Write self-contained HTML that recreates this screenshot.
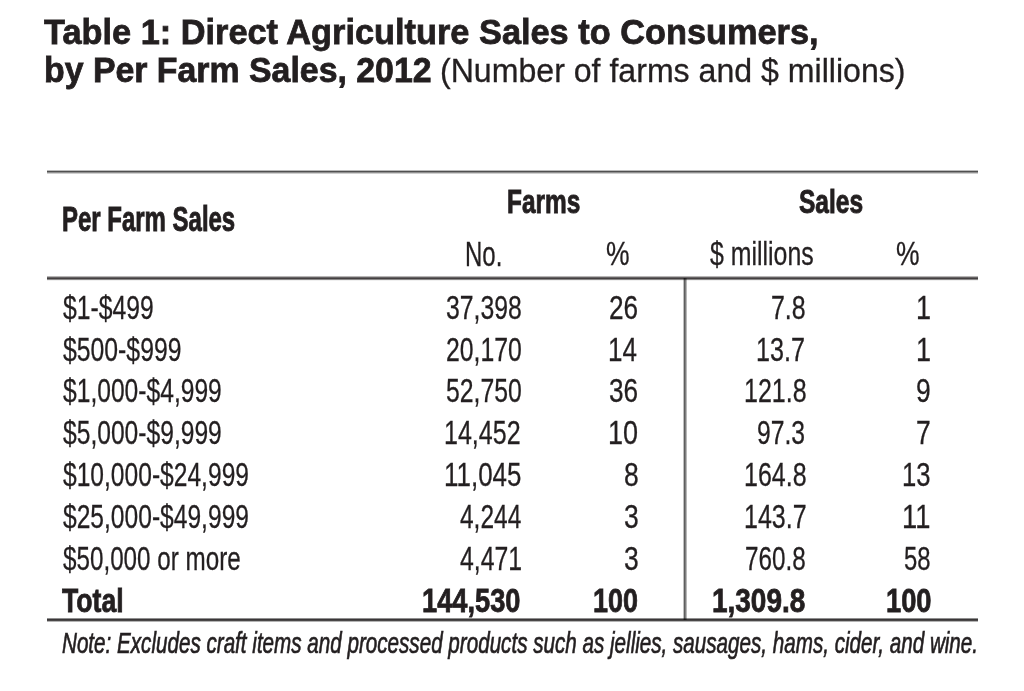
<!DOCTYPE html>
<html lang="en">
<head>
<meta charset="utf-8">
<title>Table 1: Direct Agriculture Sales to Consumers, by Per Farm Sales, 2012</title>
<style>
html,body{margin:0;padding:0;background:#fff;}
body{width:1024px;height:691px;position:relative;overflow:hidden;font-family:"Liberation Sans",sans-serif;color:#231f20;}
h1,p,section,header,div{margin:0;padding:0;font-size:inherit;font-weight:inherit;}
.t{position:absolute;display:block;white-space:pre;line-height:1;font-weight:400;font-style:normal;transform-origin:0 0;filter:blur(0.4px);}
.b{font-weight:700;}
.i{font-style:italic;}
.rule{position:absolute;}
.v{mix-blend-mode:multiply;}
</style>
</head>
<body>
<h1>
<span class="t b" style="left:43.8px;top:15.0px;font-size:35.8px;transform:scaleX(0.9591);-webkit-text-stroke:0.8px #231f20;">Table 1: Direct Agriculture Sales to Consumers,</span>
<span class="t b" style="left:43.71px;top:53.0px;font-size:35.8px;transform:scaleX(0.9455);-webkit-text-stroke:0.8px #231f20;">by Per Farm Sales, 2012</span>
<span class="t" style="left:440.03px;top:55.0px;font-size:32.6px;transform:scaleX(0.9851);-webkit-text-stroke:0.3px #231f20;">(Number of farms and $ millions)</span>
</h1>
<section>
<div class="rule" style="left:46.6px;top:170px;width:931.6px;height:4px;background:linear-gradient(to bottom,#bcbcbc 0px 1px,#505050 1px 2px,#909090 2px 3px,#d0d0d0 3px 4px)"></div>
<header>
<span class="t b" style="left:61.81px;top:202.0px;font-size:34.6px;transform:scaleX(0.6931);-webkit-text-stroke:0.9px #231f20;">Per Farm Sales</span>
<span class="t b" style="left:507.35px;top:185.0px;font-size:33.5px;transform:scaleX(0.7285);-webkit-text-stroke:0.9px #231f20;">Farms</span>
<span class="t b" style="left:799.46px;top:185.0px;font-size:33.5px;transform:scaleX(0.7326);-webkit-text-stroke:0.9px #231f20;">Sales</span>
<span class="t" style="left:465.35px;top:236.0px;font-size:35.0px;transform:scaleX(0.686);-webkit-text-stroke:0.3px #231f20;">No.</span>
<span class="t" style="left:606.38px;top:238.0px;font-size:32.5px;transform:scaleX(0.8158);-webkit-text-stroke:0.3px #231f20;">%</span>
<span class="t" style="left:709.8px;top:238.0px;font-size:32.5px;transform:scaleX(0.7658);-webkit-text-stroke:0.3px #231f20;">$ millions</span>
<span class="t" style="left:895.56px;top:238.0px;font-size:32.5px;transform:scaleX(0.8158);-webkit-text-stroke:0.3px #231f20;">%</span>
</header>
<div class="rule" style="left:46.6px;top:276px;width:931.6px;height:5px;background:linear-gradient(to bottom,#b8b6b6 0px 1px,#656263 1px 2px,#433f40 2px 3px,#8a8888 3px 4px,#f0f0f0 4px 5px)"></div>
<div>
<span class="t" style="left:62.6px;top:292.0px;font-size:32.5px;transform:scaleX(0.7612);-webkit-text-stroke:0.3px #231f20;">$1-$499</span>
<span class="t" style="left:445.84px;top:292.0px;font-size:32.5px;transform:scaleX(0.7629);-webkit-text-stroke:0.3px #231f20;">37,398</span>
<span class="t" style="left:609.17px;top:292.0px;font-size:32.5px;transform:scaleX(0.8068);-webkit-text-stroke:0.3px #231f20;">26</span>
<span class="t" style="left:770.63px;top:292.0px;font-size:32.5px;transform:scaleX(0.7674);-webkit-text-stroke:0.3px #231f20;">7.8</span>
<span class="t" style="left:915.5px;top:292.0px;font-size:32.5px;transform:scaleX(0.8313);-webkit-text-stroke:0.3px #231f20;">1</span>
</div>
<div>
<span class="t" style="left:62.6px;top:334.0px;font-size:32.5px;transform:scaleX(0.7624);-webkit-text-stroke:0.3px #231f20;">$500-$999</span>
<span class="t" style="left:445.84px;top:334.0px;font-size:32.5px;transform:scaleX(0.7629);-webkit-text-stroke:0.3px #231f20;">20,170</span>
<span class="t" style="left:608.39px;top:334.0px;font-size:32.5px;transform:scaleX(0.8005);-webkit-text-stroke:0.3px #231f20;">14</span>
<span class="t" style="left:756.44px;top:334.0px;font-size:32.5px;transform:scaleX(0.7737);-webkit-text-stroke:0.3px #231f20;">13.7</span>
<span class="t" style="left:915.5px;top:334.0px;font-size:32.5px;transform:scaleX(0.8313);-webkit-text-stroke:0.3px #231f20;">1</span>
</div>
<div>
<span class="t" style="left:62.6px;top:375.0px;font-size:32.5px;transform:scaleX(0.7576);-webkit-text-stroke:0.3px #231f20;">$1,000-$4,999</span>
<span class="t" style="left:445.84px;top:375.0px;font-size:32.5px;transform:scaleX(0.7629);-webkit-text-stroke:0.3px #231f20;">52,750</span>
<span class="t" style="left:609.17px;top:375.0px;font-size:32.5px;transform:scaleX(0.8068);-webkit-text-stroke:0.3px #231f20;">36</span>
<span class="t" style="left:743.87px;top:375.0px;font-size:32.5px;transform:scaleX(0.7696);-webkit-text-stroke:0.3px #231f20;">121.8</span>
<span class="t" style="left:915.78px;top:375.0px;font-size:32.5px;transform:scaleX(0.8151);-webkit-text-stroke:0.3px #231f20;">9</span>
</div>
<div>
<span class="t" style="left:62.6px;top:417.0px;font-size:32.5px;transform:scaleX(0.7576);-webkit-text-stroke:0.3px #231f20;">$5,000-$9,999</span>
<span class="t" style="left:444.06px;top:417.0px;font-size:32.5px;transform:scaleX(0.7708);-webkit-text-stroke:0.3px #231f20;">14,452</span>
<span class="t" style="left:608.31px;top:417.0px;font-size:32.5px;transform:scaleX(0.8313);-webkit-text-stroke:0.3px #231f20;">10</span>
<span class="t" style="left:757.24px;top:417.0px;font-size:32.5px;transform:scaleX(0.7605);-webkit-text-stroke:0.3px #231f20;">97.3</span>
<span class="t" style="left:915.78px;top:417.0px;font-size:32.5px;transform:scaleX(0.8151);-webkit-text-stroke:0.3px #231f20;">7</span>
</div>
<div>
<span class="t" style="left:62.6px;top:459.0px;font-size:32.5px;transform:scaleX(0.7567);-webkit-text-stroke:0.3px #231f20;">$10,000-$24,999</span>
<span class="t" style="left:444.0px;top:459.0px;font-size:32.5px;transform:scaleX(0.798);-webkit-text-stroke:0.3px #231f20;">11,045</span>
<span class="t" style="left:623.55px;top:459.0px;font-size:32.5px;transform:scaleX(0.8151);-webkit-text-stroke:0.3px #231f20;">8</span>
<span class="t" style="left:743.87px;top:459.0px;font-size:32.5px;transform:scaleX(0.7696);-webkit-text-stroke:0.3px #231f20;">164.8</span>
<span class="t" style="left:901.99px;top:459.0px;font-size:32.5px;transform:scaleX(0.7892);-webkit-text-stroke:0.3px #231f20;">13</span>
</div>
<div>
<span class="t" style="left:62.6px;top:501.0px;font-size:32.5px;transform:scaleX(0.7567);-webkit-text-stroke:0.3px #231f20;">$25,000-$49,999</span>
<span class="t" style="left:459.6px;top:501.0px;font-size:32.5px;transform:scaleX(0.7531);-webkit-text-stroke:0.3px #231f20;">4,244</span>
<span class="t" style="left:623.55px;top:501.0px;font-size:32.5px;transform:scaleX(0.8151);-webkit-text-stroke:0.3px #231f20;">3</span>
<span class="t" style="left:743.86px;top:501.0px;font-size:32.5px;transform:scaleX(0.7694);-webkit-text-stroke:0.3px #231f20;">143.7</span>
<span class="t" style="left:901.9px;top:501.0px;font-size:32.5px;transform:scaleX(0.8401);-webkit-text-stroke:0.3px #231f20;">11</span>
</div>
<div>
<span class="t" style="left:62.6px;top:543.0px;font-size:32.5px;transform:scaleX(0.7452);-webkit-text-stroke:0.3px #231f20;">$50,000 or more</span>
<span class="t" style="left:459.6px;top:543.0px;font-size:32.5px;transform:scaleX(0.7625);-webkit-text-stroke:0.3px #231f20;">4,471</span>
<span class="t" style="left:623.55px;top:543.0px;font-size:32.5px;transform:scaleX(0.8151);-webkit-text-stroke:0.3px #231f20;">3</span>
<span class="t" style="left:744.65px;top:543.0px;font-size:32.5px;transform:scaleX(0.7468);-webkit-text-stroke:0.3px #231f20;">760.8</span>
<span class="t" style="left:903.86px;top:543.0px;font-size:32.5px;transform:scaleX(0.7353);-webkit-text-stroke:0.3px #231f20;">58</span>
</div>
<div>
<span class="t b" style="left:61.79px;top:584.0px;font-size:33.2px;transform:scaleX(0.8027);-webkit-text-stroke:0.8px #231f20;">Total</span>
<span class="t b" style="left:421.95px;top:584.0px;font-size:33.2px;transform:scaleX(0.8206);-webkit-text-stroke:0.8px #231f20;">144,530</span>
<span class="t b" style="left:592.78px;top:584.0px;font-size:33.2px;transform:scaleX(0.8113);-webkit-text-stroke:0.8px #231f20;">100</span>
<span class="t b" style="left:712.32px;top:584.0px;font-size:33.2px;transform:scaleX(0.8426);-webkit-text-stroke:0.8px #231f20;">1,309.8</span>
<span class="t b" style="left:885.75px;top:584.0px;font-size:33.2px;transform:scaleX(0.8228);-webkit-text-stroke:0.8px #231f20;">100</span>
</div>
<div class="rule" style="left:46.6px;top:618px;width:931.6px;height:4px;background:linear-gradient(to bottom,#909090 0px 1px,#3a3738 1px 2px,#4a4748 2px 3px,#b4b4b4 3px 4px)"></div>
<div class="rule v" style="left:683px;top:278px;width:4px;height:342px;background:linear-gradient(to right,#c0c0c0 0px 1px,#5e5e5e 1px 2px,#808080 2px 3px,#b8b8b8 3px 4px)"></div>
</section>
<p>
<span class="t i" style="left:62.32px;top:627.0px;font-size:30.4px;transform:scaleX(0.6787);-webkit-text-stroke:0.7px #231f20;">Note: Excludes craft items and processed products such as jellies, sausages, hams, cider, and wine.</span>
</p>
</body>
</html>
